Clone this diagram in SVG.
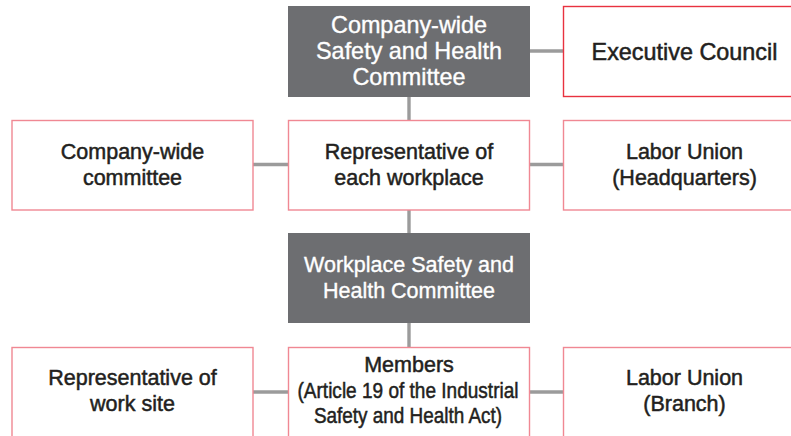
<svg xmlns="http://www.w3.org/2000/svg" width="791" height="436" viewBox="0 0 791 436">
<style>
.box{fill:#ffffff;stroke:#f08893;stroke-width:1.4}
.box.red{stroke:#e8323f}
.dark{fill:#6d6e71}
.t{font-family:"Liberation Sans",Arial,sans-serif;font-size:21.5px;fill:#231f20;text-anchor:middle;stroke:#231f20;stroke-width:0.5}
.w{fill:#ffffff;stroke:#ffffff;stroke-width:0.35}
.big{font-size:23.4px}
.conn{stroke:#9b9b9b;stroke-width:3.4;fill:none}
</style>
<rect width="791" height="436" fill="#ffffff"/>
<g id="connectors">
<line class="conn" x1="530" y1="51" x2="563" y2="51"/>
<line class="conn" x1="409" y1="97" x2="409" y2="121"/>
<line class="conn" x1="253" y1="164.5" x2="288" y2="164.5"/>
<line class="conn" x1="530" y1="164.5" x2="563" y2="164.5"/>
<line class="conn" x1="409" y1="210" x2="409" y2="233"/>
<line class="conn" x1="409" y1="323" x2="409" y2="347"/>
<line class="conn" x1="253" y1="392" x2="288" y2="392"/>
<line class="conn" x1="530" y1="392" x2="563" y2="392"/>
</g>
<g id="company-committee">
<rect class="dark" x="288" y="6" width="242" height="91"/>
<text class="t w big" x="409" y="33">Company-wide</text>
<text class="t w big" x="409" y="59">Safety and Health</text>
<text class="t w big" x="409" y="85">Committee</text>
</g>
<g id="executive-council">
<rect class="box red" x="563.5" y="6.5" width="242" height="90"/>
<text class="t big" x="684.5" y="59.5">Executive Council</text>
</g>
<g id="company-wide-committee">
<rect class="box" x="12" y="120.5" width="241" height="89.5"/>
<text class="t" x="132.5" y="159">Company-wide</text>
<text class="t" x="132.5" y="185">committee</text>
</g>
<g id="rep-workplace">
<rect class="box" x="288.5" y="120.5" width="241" height="89.5"/>
<text class="t" x="409" y="159">Representative of</text>
<text class="t" x="409" y="185">each workplace</text>
</g>
<g id="labor-union-hq">
<rect class="box" x="563.5" y="120.5" width="242" height="89.5"/>
<text class="t" x="684.5" y="159">Labor Union</text>
<text class="t" x="684.5" y="185">(Headquarters)</text>
</g>
<g id="workplace-committee">
<rect class="dark" x="288" y="233" width="242" height="90"/>
<text class="t w" x="409" y="272">Workplace Safety and</text>
<text class="t w" x="409" y="298">Health Committee</text>
</g>
<g id="rep-work-site">
<rect class="box" x="12" y="347.5" width="241" height="95"/>
<text class="t" x="132.5" y="385">Representative of</text>
<text class="t" x="132.5" y="411">work site</text>
</g>
<g id="members">
<rect class="box" x="288.5" y="347.5" width="241" height="95"/>
<text class="t" x="409" y="372">Members</text>
<text class="t" x="408" y="398" textLength="221" lengthAdjust="spacingAndGlyphs">(Article 19 of the Industrial</text>
<text class="t" x="408" y="423" textLength="188" lengthAdjust="spacingAndGlyphs">Safety and Health Act)</text>
</g>
<g id="labor-union-branch">
<rect class="box" x="563.5" y="347.5" width="242" height="95"/>
<text class="t" x="684.5" y="385">Labor Union</text>
<text class="t" x="684.5" y="411">(Branch)</text>
</g>
</svg>
